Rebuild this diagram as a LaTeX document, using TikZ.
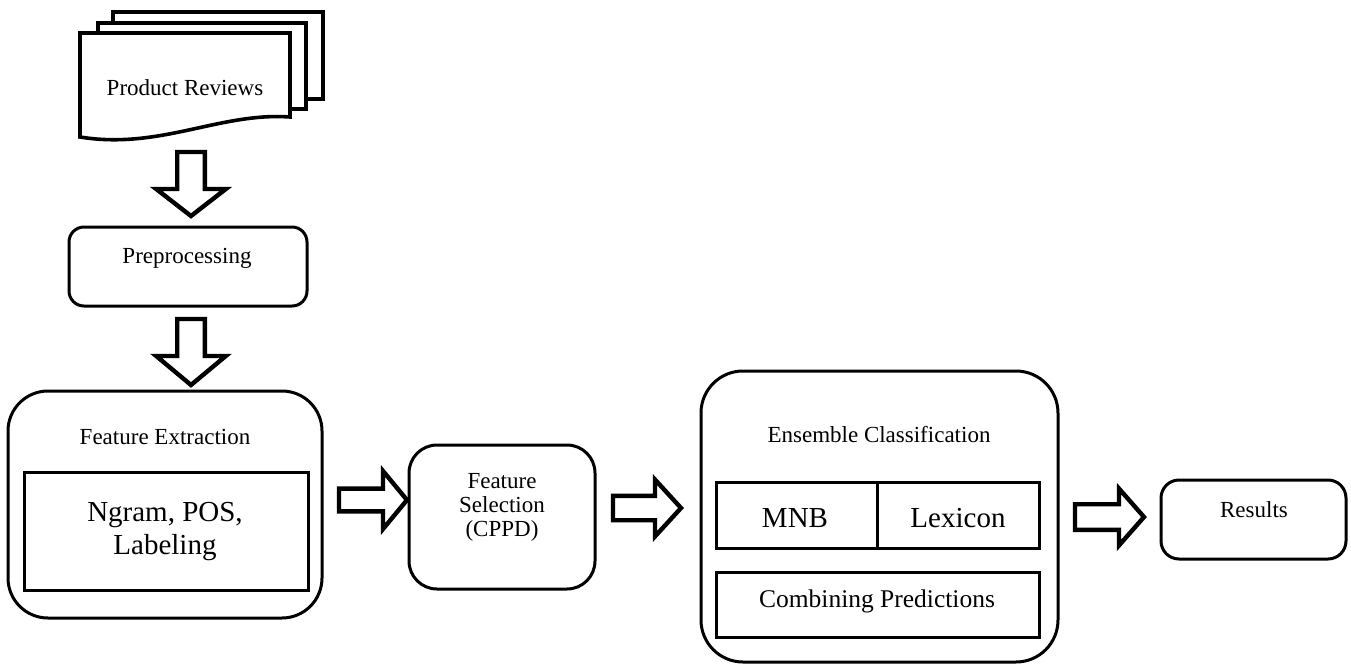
\documentclass[tikz,border=0pt]{standalone}
\usepackage{fontspec}
\setmainfont{Liberation Serif}
\usetikzlibrary{fit,calc}
\newcommand\darrowblk[5]{\draw[barrow] let \p1=(#1),\p2=(#2) in
  (\x2-#3,\y1) -- (\x2+#3,\y1) -- (\x2+#3,\y2+#5) -- (\x2+#4,\y2+#5) -- (\x2,\y2)
  -- (\x2-#4,\y2+#5) -- (\x2-#3,\y2+#5) -- cycle;}
\newcommand\rarrowblk[5]{\draw[barrow] let \p1=(#1),\p2=(#2) in
  (\x1,\y2+#3) -- (\x2-#5,\y2+#3) -- (\x2-#5,\y2+#4) -- (\x2,\y2)
  -- (\x2-#5,\y2-#4) -- (\x2-#5,\y2-#3) -- (\x1,\y2-#3) -- cycle;}
\begin{document}
\begin{tikzpicture}[x=0.5pt,y=-0.5pt,
  rbox/.style={draw, line width=1.5pt, rounded corners=#1, inner sep=0pt},
  ibox/.style={draw, line width=1.5pt, inner sep=0pt},
  barrow/.style={draw, line width=2.2pt, fill=white, miter limit=20},
  docpage/.style={draw, line width=1.8pt, fill=white},
  lbl/.style={font=\fontsize{11.5}{12}\selectfont, align=center, inner sep=0pt},
  big/.style={font=\fontsize{14.5}{16.5}\selectfont, align=center, inner sep=0pt},
  mid/.style={font=\fontsize{12.75}{14}\selectfont, inner sep=0pt}]
\useasboundingbox (0,0) rectangle (1351,665);

% document stack
\draw[docpage] (113,12) rectangle (323,99);
\draw[docpage] (98,23) rectangle (306,109);
\draw[docpage] (80,137) -- (80,33) -- (290,33) -- (290,117)
  .. controls (220,112) and (160,150) .. (80,137) -- cycle;
\node[inner sep=0pt, fit={(80,12)(323,142)}] (docs) {};
\node[lbl] (docstxt) at (185,88) {Product Reviews};

% boxes
\node[rbox=7.5pt, fit={(69,227)(307,306)}] (pre) {};
\node[lbl] (pretxt) at (187,258) {Preprocessing};

\node[rbox=20pt, fit={(8,391)(322,618)}] (fe) {};
\node[lbl] (fetxt) at (165,437) {Feature Extraction};
\node[ibox, fit={(24,472)(308,590)}] (ngram) {};
\node[big] (ngramtxt) at (165,532) {Ngram, POS,\\Labeling};

\node[rbox=14pt, fit={(409,445)(595,589)}] (fs) {};
\node[lbl] (fstxt) at (502,507) {Feature\\Selection\\(CPPD)};

\node[rbox=21pt, fit={(701,371)(1058,662)}] (ens) {};
\node[lbl] (enstxt) at (879,435) {Ensemble Classification};
\node[ibox, fit={(716,482)(877,548)}] (mnb) {};
\node[ibox, fit={(877,482)(1039,548)}] (lex) {};
\node[big] (mnbtxt) at (795,518) {MNB};
\node[big] (lextxt) at (958,518) {Lexicon};
\node[ibox, fit={(716,572)(1039,637)}] (comb) {};
\node[mid] (combtxt) at (877,601) {Combining Predictions};

\node[rbox=9pt, fit={(1161,480)(1346,559)}] (res) {};
\node[lbl] (restxt) at (1254,510) {Results};

% block arrows
\coordinate (a1s) at (191,152);
\coordinate (a1e) at (191,216);
\coordinate (a2s) at (191,319);
\coordinate (a2e) at (191,385);
\coordinate (a3s) at (339,500);
\coordinate (a3e) at (407,500);
\coordinate (a4s) at (613,508);
\coordinate (a4e) at (681,508);
\coordinate (a5s) at (1075,517);
\coordinate (a5e) at (1144,517);
\darrowblk{a1s}{a1e}{6.9pt}{17.4pt}{13.5pt}
\darrowblk{a2s}{a2e}{6.9pt}{17.4pt}{14.5pt}
\rarrowblk{a3s}{a3e}{5.7pt}{14.5pt}{12pt}
\rarrowblk{a4s}{a4e}{6.1pt}{14.2pt}{13pt}
\rarrowblk{a5s}{a5e}{6.4pt}{14.2pt}{12.5pt}
\end{tikzpicture}
\end{document}
